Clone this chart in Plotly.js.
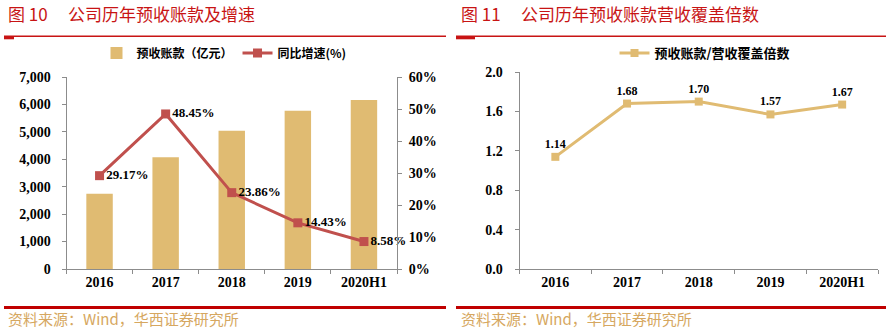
<!DOCTYPE html>
<html>
<head>
<meta charset="utf-8">
<script src="https://cdn.plot.ly/plotly-3.0.1.min.js"></script>
<style>
html,body{margin:0;padding:0;background:#fff;}
#chart{width:886px;height:329px;}
</style>
</head>
<body>
<div id="chart"></div>
<script>
const categories = ['2016', '2017', '2018', '2019', '2020H1'];
const advanceReceipts = [2740, 4070, 5040, 5770, 6160];
const growthRate = [29.17, 48.45, 23.86, 14.43, 8.58];
const coverageRatio = [1.14, 1.68, 1.70, 1.57, 1.67];

const leftTickVals = [0, 1000, 2000, 3000, 4000, 5000, 6000, 7000];
const rightTickVals = [0, 10, 20, 30, 40, 50, 60];
const rightTickText = rightTickVals.map(v => v + '%');
const coverTickVals = [0, 0.4, 0.8, 1.2, 1.6, 2.0];

const W = 886, H = 329;
const px = v => v / W;
const py = v => 1 - v / H;

const tan = '#E0BB72';
const red = '#C0504D';
const titleRed = '#C81414';
const srcColor = '#D6A760';
const axisGrey = '#8C8C8C';
const serif = 'Liberation Serif, Times New Roman, serif';
const cjk = 'Noto Sans CJK SC, sans-serif';

const traces = [
  {
    type: 'bar', name: '预收账款（亿元）', x: categories, y: advanceReceipts,
    xaxis: 'x', yaxis: 'y', width: 0.4,
    marker: {color: tan}, legend: 'legend', hoverinfo: 'skip'
  },
  {
    type: 'scatter', mode: 'lines+markers+text', name: '同比增速(%)',
    x: categories, y: growthRate, xaxis: 'x', yaxis: 'y2',
    line: {color: red, width: 3},
    marker: {symbol: 'square', size: 9, color: red},
    text: growthRate.map(v => v.toFixed(2) + '%'),
    textposition: 'middle right',
    textfont: {family: serif, size: 13, color: '#000', weight: 'bold'},
    cliponaxis: false, legend: 'legend', hoverinfo: 'skip'
  },
  {
    type: 'scatter', mode: 'lines+markers+text', name: '预收账款/营收覆盖倍数',
    x: categories, y: coverageRatio, xaxis: 'x2', yaxis: 'y3',
    line: {color: tan, width: 3},
    marker: {symbol: 'square', size: 8, color: tan},
    text: coverageRatio.map(v => v.toFixed(2)),
    textposition: 'top center',
    textfont: {family: serif, size: 12, color: '#000', weight: 'bold'},
    cliponaxis: false, legend: 'legend2', hoverinfo: 'skip'
  }
];

const tickFont = {family: serif, size: 14, color: '#000', weight: 'bold'};

const baseX = {
  type: 'category', showgrid: false, zeroline: false,
  showline: true, linecolor: axisGrey, linewidth: 1,
  ticks: 'outside', tickson: 'boundaries', ticklen: 4, tickcolor: axisGrey,
  tickfont: tickFont, range: [-0.5, 4.5], fixedrange: true
};

const layout = {
  width: W, height: H,
  margin: {l: 0, r: 0, t: 0, b: 0},
  paper_bgcolor: '#fff', plot_bgcolor: 'rgba(0,0,0,0)',
  showlegend: true,
  xaxis: Object.assign({}, baseX, {domain: [px(66.5), px(397)], anchor: 'y'}),
  xaxis2: Object.assign({}, baseX, {domain: [px(519.5), px(878)], anchor: 'y3'}),
  yaxis: {
    domain: [1 - 269 / H, 1 - 77 / H], anchor: 'x', range: [0, 7000],
    tickvals: leftTickVals, tickformat: ',', showgrid: false, zeroline: false,
    showline: true, linecolor: axisGrey, ticks: 'outside', ticklen: 4, tickcolor: axisGrey,
    tickfont: tickFont, ticklabelstandoff: 8, fixedrange: true
  },
  yaxis2: {
    overlaying: 'y', side: 'right', anchor: 'x', range: [0, 60],
    tickmode: 'array', tickvals: rightTickVals, ticktext: rightTickText,
    showgrid: false, zeroline: false,
    showline: true, linecolor: axisGrey, ticks: 'outside', ticklen: 4, tickcolor: axisGrey,
    tickfont: tickFont, ticklabelstandoff: 4, fixedrange: true
  },
  yaxis3: {
    domain: [1 - 269.3 / H, 1 - 72 / H], anchor: 'x2', range: [0, 2],
    tickvals: coverTickVals, tickformat: '.1f', showgrid: false, zeroline: false,
    showline: true, linecolor: axisGrey, ticks: 'outside', ticklen: 4, tickcolor: axisGrey,
    tickfont: tickFont, ticklabelstandoff: 9, fixedrange: true
  },
  legend: {
    orientation: 'h', x: px(224), xanchor: 'center', y: py(53), yanchor: 'middle',
    font: {family: cjk, size: 12, color: '#000', weight: 'bold'},
    bgcolor: 'rgba(0,0,0,0)', itemclick: false, itemdoubleclick: false
  },
  legend2: {
    orientation: 'h', x: px(705), xanchor: 'center', y: py(53), yanchor: 'middle',
    font: {family: cjk, size: 13, color: '#000', weight: 'bold'},
    bgcolor: 'rgba(0,0,0,0)', itemclick: false, itemdoubleclick: false
  },
  shapes: [
    {type: 'line', xref: 'paper', yref: 'paper', x0: px(4), x1: px(446), y0: py(36.3), y1: py(36.3), line: {color: titleRed, width: 1.5}},
    {type: 'rect', xref: 'paper', yref: 'paper', x0: px(4), x1: px(14), y0: py(36), y1: py(39.3), fillcolor: titleRed, line: {width: 0}},
    {type: 'line', xref: 'paper', yref: 'paper', x0: px(456), x1: px(886), y0: py(36.3), y1: py(36.3), line: {color: titleRed, width: 1.5}},
    {type: 'rect', xref: 'paper', yref: 'paper', x0: px(456), x1: px(475), y0: py(36), y1: py(39.3), fillcolor: titleRed, line: {width: 0}},
    {type: 'line', xref: 'paper', yref: 'paper', x0: px(4), x1: px(446), y0: py(307.5), y1: py(307.5), line: {color: '#C00000', width: 3}},
    {type: 'line', xref: 'paper', yref: 'paper', x0: px(456), x1: px(886), y0: py(307.5), y1: py(307.5), line: {color: '#C00000', width: 3}}
  ],
  annotations: [
    {text: '图 10', xref: 'paper', yref: 'paper', x: px(6), y: py(14), xanchor: 'left', yanchor: 'middle', showarrow: false,
     font: {family: cjk, size: 17, color: titleRed}},
    {text: '公司历年预收账款及增速', xref: 'paper', yref: 'paper', x: px(66), y: py(14), xanchor: 'left', yanchor: 'middle', showarrow: false,
     font: {family: cjk, size: 17, color: titleRed}},
    {text: '图 11', xref: 'paper', yref: 'paper', x: px(459), y: py(14), xanchor: 'left', yanchor: 'middle', showarrow: false,
     font: {family: cjk, size: 17, color: titleRed}},
    {text: '公司历年预收账款营收覆盖倍数', xref: 'paper', yref: 'paper', x: px(519), y: py(14), xanchor: 'left', yanchor: 'middle', showarrow: false,
     font: {family: cjk, size: 17, color: titleRed}},
    {text: '资料来源：Wind，华西证券研究所', xref: 'paper', yref: 'paper', x: px(6), y: py(318), xanchor: 'left', yanchor: 'middle', showarrow: false,
     font: {family: cjk, size: 15, color: srcColor}},
    {text: '资料来源：Wind，华西证券研究所', xref: 'paper', yref: 'paper', x: px(459), y: py(318), xanchor: 'left', yanchor: 'middle', showarrow: false,
     font: {family: cjk, size: 15, color: srcColor}}
  ]
};

Plotly.newPlot('chart', traces, layout, {displayModeBar: false, staticPlot: true});
</script>
</body>
</html>
